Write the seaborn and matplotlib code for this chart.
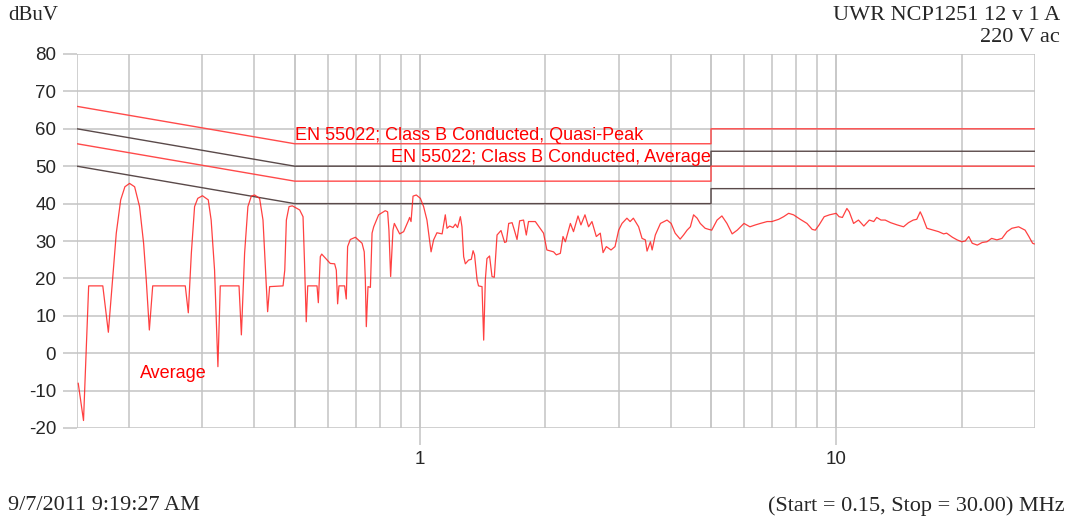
import numpy as np
import pandas as pd
import matplotlib
matplotlib.use("Agg")
import matplotlib.pyplot as plt
import seaborn as sns

# --- dados ---
freq_mhz = [0.151, 0.1555, 0.160, 0.173, 0.1784, 0.1864, 0.191, 0.1955, 0.2006, 0.2063, 0.212,
            0.2168, 0.220, 0.2238, 0.228, 0.273, 0.2776, 0.2823, 0.2874, 0.2925, 0.3002, 0.310,
            0.315, 0.321, 0.327, 0.3313, 0.3675, 0.3723, 0.379, 0.386, 0.3934, 0.4006, 0.4118,
            0.4196, 0.4256, 0.4305, 0.4353, 0.4688, 0.4733, 0.4775, 0.4846, 0.4935, 0.514, 0.5236,
            0.528, 0.533, 0.5374, 0.5657, 0.5698, 0.5761, 0.5806, 0.6087, 0.6236, 0.6294, 0.634,
            0.6387, 0.659, 0.665, 0.670, 0.680, 0.6994, 0.7257, 0.7345, 0.739, 0.743, 0.750, 0.760,
            0.767, 0.774, 0.7955, 0.825, 0.836, 0.842, 0.850, 0.861, 0.8676, 0.8935, 0.9134, 0.939,
            0.944, 0.9515, 0.9621, 0.9797, 1.002, 1.02, 1.039, 1.063, 1.078, 1.098, 1.13, 1.15,
            1.161, 1.178, 1.2, 1.216, 1.231, 1.25, 1.261, 1.273, 1.285, 1.308, 1.328, 1.341, 1.352,
            1.371, 1.382, 1.409, 1.422, 1.435, 1.448, 1.469, 1.489, 1.508, 1.531, 1.565, 1.597,
            1.612, 1.633, 1.664, 1.685, 1.71, 1.735, 1.773, 1.8, 1.822, 1.892, 1.98, 2.017, 2.093,
            2.125, 2.173, 2.205, 2.234, 2.297, 2.337, 2.396, 2.435, 2.49, 2.54, 2.588, 2.651, 2.71,
            2.752, 2.802, 2.876, 2.94, 3.0, 3.056, 3.14, 3.196, 3.254, 3.35, 3.414, 3.477, 3.51,
            3.576, 3.61, 3.674, 3.78, 3.92, 4.01, 4.1, 4.215, 4.295, 4.38, 4.46, 4.54, 4.63, 4.71,
            4.84, 4.94, 5.02, 5.17, 5.31, 5.46, 5.62, 5.78, 6.0, 6.2, 6.39, 6.57, 6.82, 7.0, 7.27,
            7.47, 7.68, 7.89, 8.19, 8.5, 8.75, 8.9, 9.09, 9.35, 9.63, 9.99, 10.15, 10.34, 10.6,
            10.74, 11.0, 11.3, 11.64, 12.0, 12.3, 12.5, 12.8, 13.1, 13.5, 14.0, 14.5, 14.9, 15.3,
            15.6, 15.9, 16.1, 16.5, 17.1, 17.6, 18.1, 18.4, 19.0, 19.5, 20.0, 20.4, 20.8, 21.2,
            21.8, 22.4, 23.0, 23.6, 24.3, 25.0, 25.7, 26.4, 27.4, 28.4, 29.0, 29.6, 29.9]
nivel_dbuv = [-8.0, -18.0, 18.0, 18.0, 5.6, 32.1, 41.0, 44.5, 45.4, 44.5, 39.2,
              29.4, 19.6, 6.2, 18.0, 18.0, 10.8, 26.7, 39.2, 41.4, 42.1, 41.0,
              35.6, 22.2, -3.6, 18.0, 18.0, 4.9, 26.7, 39.2, 42.0, 42.3, 41.4,
              35.6, 22.2, 11.1, 17.8, 18.0, 22.2, 35.6, 39.2, 39.4, 38.3, 36.5,
              24.0, 8.4, 18.0, 18.0, 13.5, 25.8, 26.5, 24.0, 23.9, 22.2, 13.2,
              18.0, 18.0, 14.5, 28.5, 30.4, 31.0, 29.4, 27.1, 19.6, 7.1, 17.8, 17.6,
              32.1, 33.8, 37.0, 38.1, 37.8, 32.9, 20.5, 32.9, 34.7, 31.9, 32.5, 35.6,
              36.3, 35.2, 42.0, 42.3, 41.4, 39.2, 35.6, 27.1, 30.3, 32.2, 31.9, 37.0,
              33.4, 34.0, 33.6, 34.5, 33.6, 36.5, 33.8, 25.8, 23.9, 24.9, 25.1, 27.4, 26.3,
              19.6, 18.0, 17.8, 3.5, 19.6, 25.3, 26.0, 20.5, 20.3, 31.6, 32.8, 29.6,
              29.8, 34.7, 34.9, 32.9, 30.4, 35.4, 35.6, 31.6, 35.2, 35.2, 32.1, 27.6, 27.1,
              26.3, 26.7, 31.2, 29.8, 34.7, 32.5, 36.7, 34.3, 37.0, 33.8, 35.2, 31.2, 32.1,
              26.9, 28.5, 27.6, 28.5, 32.9, 34.7, 36.1, 35.2, 36.1, 33.8, 30.7, 30.3, 27.3,
              29.8, 27.6, 31.6, 34.7, 35.6, 34.7, 32.1, 30.5, 31.6, 32.9, 33.8, 37.0, 36.1, 34.7,
              33.4, 33.1, 32.9, 35.6, 36.7, 34.7, 31.9, 32.9, 34.7, 33.8, 34.3, 34.7, 35.2, 35.2, 35.8,
              36.5, 37.4, 37.0, 35.8, 34.7, 33.1, 32.9, 34.3, 36.5, 37.0, 37.4, 36.5, 36.3, 38.7,
              37.8, 34.7, 35.6, 34.0, 35.6, 35.2, 36.3, 35.6, 35.6, 34.9, 34.3, 33.8, 34.9, 35.6,
              35.8, 37.8, 36.5, 33.4, 32.9, 32.5, 31.9, 32.1, 31.0, 30.3, 29.8, 30.0, 31.2, 29.4,
              28.9, 29.6, 29.8, 30.7, 30.3, 30.7, 32.5, 33.4, 33.8, 32.9, 31.2, 29.4, 29.2]

# limites EN 55022 classe B (e linhas de margem -6 dB)
lim_freq = [0.15, 0.5, 0.5, 5, 5, 30]
lim_qp = [66, 56, 56, 56, 60, 60]
lim_avg = [56, 46, 46, 46, 50, 50]
marg_qp = [60, 50, 50, 50, 54, 54]
marg_avg = [50, 40, 40, 40, 44, 44]

y_ticks = [-20, -10, 0, 10, 20, 30, 40, 50, 60, 70, 80]
x_grid = [0.15, 0.2, 0.3, 0.4, 0.5, 0.6, 0.7, 0.8, 0.9, 1, 2, 3, 4, 5, 6, 7, 8, 9, 10, 20, 30]

df = pd.DataFrame({"f": freq_mhz, "v": nivel_dbuv})
df_lim = pd.DataFrame({"f": lim_freq, "qp": lim_qp, "avg": lim_avg, "mqp": marg_qp, "mavg": marg_avg})

sns.set_theme(style="white")
plt.rcParams["font.family"] = ["Liberation Sans", "DejaVu Sans"]

fig = plt.figure(figsize=(10.69, 5.18), dpi=100)
ax = fig.add_axes([77 / 1069, 1 - 428 / 518, (1035 - 77) / 1069, (428 - 54) / 518])

ax.set_xscale("log")
ax.set_xlim(0.15, 30)
ax.set_ylim(-20, 80)

# grade manual (cinza)
for xv in x_grid:
    ax.axvline(xv, color="#c4c4c4", lw=1.3 if xv in (0.5, 1, 5, 10) else 1.1, zorder=0)
for yv in y_ticks:
    ax.axhline(yv, color="#c4c4c4", lw=1.1, zorder=0)

for col, cor in [("mqp", "#5a4a4a"), ("mavg", "#5a4a4a"), ("qp", "#ff4a4a"), ("avg", "#ff4a4a")]:
    sns.lineplot(data=df_lim, x="f", y=col, ax=ax, color=cor, lw=1.0, sort=False, estimator=None)

sns.lineplot(data=df, x="f", y="v", ax=ax, color="#ff2020", lw=0.9, sort=False, estimator=None, alpha=0.85)

for s in ax.spines.values():
    s.set_visible(False)

ax.set_yticks(y_ticks)
ax.set_yticklabels([str(t) for t in y_ticks], fontsize=13.5)
ax.set_xticks([1, 10])
ax.set_xticklabels(["1", "10"], fontsize=13.5)
ax.xaxis.set_minor_locator(matplotlib.ticker.NullLocator())
ax.tick_params(axis="y", length=10, width=1.1, color="#c4c4c4", pad=5, left=True)
ax.tick_params(axis="x", length=12.5, width=1.1, color="#c4c4c4", pad=4, bottom=True)
ax.set_xlabel("")
ax.set_ylabel("")

ax.text(0.5, 57, "EN 55022; Class B Conducted, Quasi-Peak", color="red", fontsize=13,
        ha="left", va="baseline")
ax.text(5.0, 51.1, "EN 55022; Class B Conducted, Average", color="red", fontsize=13,
        ha="right", va="baseline")
ax.text(0.2124, -6.6, "Average", color="red", fontsize=13, ha="left", va="baseline")

serif = ["Liberation Serif", "DejaVu Serif"]
fig.text(8 / 1069, 1 - 15 / 518, "dBuV", family=serif, fontsize=15, ha="left", va="center")
fig.text(1060 / 1069, 1 - 15 / 518, "UWR NCP1251 12 v 1 A", family=serif, fontsize=16, ha="right", va="center")
fig.text(1060 / 1069, 1 - 38 / 518, "220 V ac", family=serif, fontsize=16, ha="right", va="center")
fig.text(8 / 1069, 1 - 506 / 518, "9/7/2011 9:19:27 AM", family=serif, fontsize=16, ha="left", va="center")
fig.text(1065 / 1069, 1 - 506 / 518, "(Start = 0.15, Stop = 30.00) MHz", family=serif, fontsize=16,
         ha="right", va="center")

fig.savefig("out.png", dpi=100)
